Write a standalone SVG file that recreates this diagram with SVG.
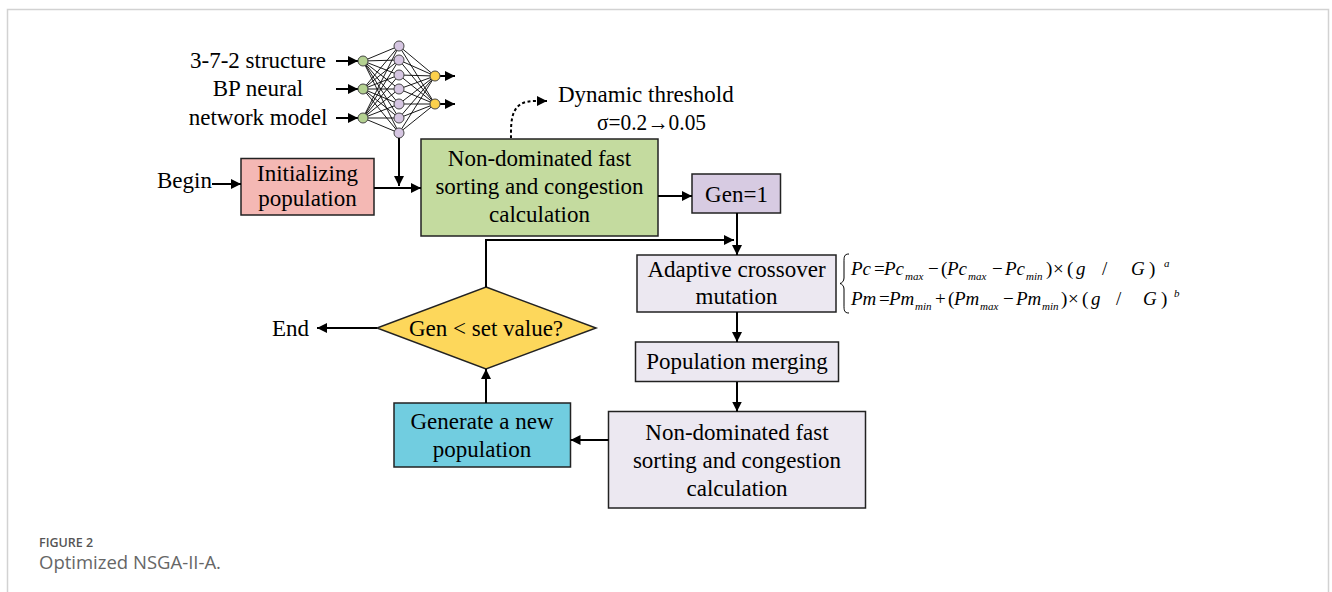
<svg xmlns="http://www.w3.org/2000/svg" width="1332" height="592" viewBox="0 0 1332 592">
<defs>
<style>
.t{font-family:"Liberation Serif","Times New Roman",serif;font-size:23px;fill:#000;}
.m{font-family:"Liberation Serif","Times New Roman",serif;font-size:19px;fill:#000;}
.i{font-style:italic;}
.s{font-size:11px;font-style:italic;}
.box{stroke:#222;stroke-width:1.5;}
.ln{stroke:#000;stroke-width:2;fill:none;}
.nn{stroke:#000;stroke-width:0.9;fill:none;}
.nd{stroke:#444;stroke-width:1;}
.cap1{font-family:"Open Sans","Liberation Sans",sans-serif;font-size:12.5px;font-weight:600;fill:#555;}
.cap2{font-family:"Open Sans","Liberation Sans",sans-serif;font-size:18.5px;fill:#666;}
</style>
<marker id="ah" viewBox="0 0 10 10" refX="10" refY="5" markerWidth="5" markerHeight="5" orient="auto" markerUnits="strokeWidth">
<path d="M0,0 L10,5 L0,10 Z" fill="#000"/>
</marker>
</defs>
<rect x="0" y="0" width="1332" height="592" fill="#fff"/>
<path d="M7.5,600 V9.5 H1328.5 V600" fill="none" stroke="#d2d2d2" stroke-width="1.5"/>

<g id="nn-model">
<text class="t" x="258" y="68" text-anchor="middle">3-7-2 structure</text>
<text class="t" x="258" y="96" text-anchor="middle">BP neural</text>
<text class="t" x="258" y="125" text-anchor="middle">network model</text>
<g class="ln" stroke-width="1.5">
<line x1="336" y1="61" x2="358" y2="61" marker-end="url(#ah)"/>
<line x1="336" y1="89" x2="358" y2="89" marker-end="url(#ah)"/>
<line x1="336" y1="118" x2="358" y2="118" marker-end="url(#ah)"/>
<line x1="440" y1="76" x2="455" y2="76" marker-end="url(#ah)"/>
<line x1="440" y1="104" x2="455" y2="104" marker-end="url(#ah)"/>
</g>
<g class="nn">
<path d="M363,61 L399,46 M363,61 L399,60 M363,61 L399,75 M363,61 L399,89 M363,61 L399,104 M363,61 L399,118 M363,61 L399,133
M363,89 L399,46 M363,89 L399,60 M363,89 L399,75 M363,89 L399,89 M363,89 L399,104 M363,89 L399,118 M363,89 L399,133
M363,118 L399,46 M363,118 L399,60 M363,118 L399,75 M363,118 L399,89 M363,118 L399,104 M363,118 L399,118 M363,118 L399,133
M399,46 L435,76 M399,60 L435,76 M399,75 L435,76 M399,89 L435,76 M399,104 L435,76 M399,118 L435,76 M399,133 L435,76
M399,46 L435,104 M399,60 L435,104 M399,75 L435,104 M399,89 L435,104 M399,104 L435,104 M399,118 L435,104 M399,133 L435,104"/>
</g>
<g class="nd" fill="#b4d191">
<circle cx="363" cy="61" r="5"/>
<circle cx="363" cy="89" r="5"/>
<circle cx="363" cy="118" r="5"/>
</g>
<g class="nd" fill="#d6c6e2">
<circle cx="399" cy="46" r="5"/>
<circle cx="399" cy="60" r="5"/>
<circle cx="399" cy="75" r="5"/>
<circle cx="399" cy="89" r="5"/>
<circle cx="399" cy="104" r="5"/>
<circle cx="399" cy="118" r="5"/>
<circle cx="399" cy="133" r="5"/>
</g>
<g class="nd" fill="#fcd14c">
<circle cx="435" cy="76" r="5"/>
<circle cx="435" cy="104" r="5"/>
</g>
</g>

<g id="begin"><text class="t" x="157" y="188">Begin</text></g>

<g id="init">
<rect class="box" x="241" y="158.5" width="133" height="56.5" fill="#f4b8b4"/>
<text class="t" x="307.5" y="181" text-anchor="middle">Initializing</text>
<text class="t" x="307.5" y="206" text-anchor="middle">population</text>
</g>

<g id="nds1">
<rect class="box" x="421" y="139" width="237" height="97" fill="#c4db9f"/>
<text class="t" x="539.5" y="166" text-anchor="middle">Non-dominated fast</text>
<text class="t" x="539.5" y="194" text-anchor="middle">sorting and congestion</text>
<text class="t" x="539.5" y="222" text-anchor="middle">calculation</text>
</g>

<g id="threshold">
<text class="t" x="558" y="102">Dynamic threshold</text>
<text class="t" x="597" y="130" textLength="109" lengthAdjust="spacingAndGlyphs">σ=0.2→0.05</text>
</g>

<g id="gen1">
<rect class="box" x="692" y="174" width="88.5" height="39" fill="#d7cbe2"/>
<text class="t" x="736.5" y="202" text-anchor="middle">Gen=1</text>
</g>

<g id="adaptive">
<rect class="box" x="637" y="255" width="199" height="57" fill="#ece8f1"/>
<text class="t" x="736.5" y="277" text-anchor="middle">Adaptive crossover</text>
<text class="t" x="736.5" y="304" text-anchor="middle">mutation</text>
</g>

<g id="formula">
<path d="M849,254 C844,254 844,257 844,262 L844,278 C844,281 842,283 840,283.5 C842,284 844,286 844,289 L844,305 C844,310 844,313 849,313" fill="none" stroke="#000" stroke-width="1"/>
<text class="m" y="275"><tspan x="851" class="i">Pc</tspan><tspan x="874">=</tspan><tspan x="884" class="i">Pc</tspan><tspan x="905" dy="5" class="s">max</tspan><tspan x="928" dy="-5">−</tspan><tspan x="941">(</tspan><tspan x="947" class="i">Pc</tspan><tspan x="968" dy="5" class="s">max</tspan><tspan x="992" dy="-5">−</tspan><tspan x="1005" class="i">Pc</tspan><tspan x="1026" dy="5" class="s">min</tspan><tspan x="1046" dy="-5">)</tspan><tspan x="1053">×</tspan><tspan x="1067">(</tspan><tspan x="1076" class="i">g</tspan><tspan x="1102">/</tspan><tspan x="1131" class="i">G</tspan><tspan x="1149">)</tspan><tspan x="1164" dy="-8" class="s">a</tspan></text>
<text class="m" y="305"><tspan x="851" class="i">Pm</tspan><tspan x="879">=</tspan><tspan x="889" class="i">Pm</tspan><tspan x="915" dy="5" class="s">min</tspan><tspan x="935" dy="-5">+</tspan><tspan x="948">(</tspan><tspan x="954" class="i">Pm</tspan><tspan x="980" dy="5" class="s">max</tspan><tspan x="1003" dy="-5">−</tspan><tspan x="1016" class="i">Pm</tspan><tspan x="1042" dy="5" class="s">min</tspan><tspan x="1061" dy="-5">)</tspan><tspan x="1068">×</tspan><tspan x="1082">(</tspan><tspan x="1091" class="i">g</tspan><tspan x="1116">/</tspan><tspan x="1143" class="i">G</tspan><tspan x="1161">)</tspan><tspan x="1174" dy="-8" class="s">b</tspan></text>
</g>

<g id="merging">
<rect class="box" x="635.5" y="342" width="203" height="39.5" fill="#ece8f1"/>
<text class="t" x="737" y="369" text-anchor="middle">Population merging</text>
</g>

<g id="nds2">
<rect class="box" x="608.5" y="411.5" width="257" height="96.5" fill="#ece8f1"/>
<text class="t" x="737" y="440" text-anchor="middle">Non-dominated fast</text>
<text class="t" x="737" y="468" text-anchor="middle">sorting and congestion</text>
<text class="t" x="737" y="496" text-anchor="middle">calculation</text>
</g>

<g id="generate">
<rect class="box" x="394" y="403" width="176.5" height="64" fill="#71cde0"/>
<text class="t" x="482" y="429" text-anchor="middle">Generate a new</text>
<text class="t" x="482" y="457" text-anchor="middle">population</text>
</g>

<g id="decision">
<polygon class="box" points="486,287 596,328 486,369 377,328" fill="#fdd75b"/>
<text class="t" x="486" y="336" text-anchor="middle">Gen &lt; set value?</text>
</g>

<g id="end"><text class="t" x="272" y="336">End</text></g>

<g id="connectors">
<line class="ln" x1="212" y1="184" x2="241" y2="184" marker-end="url(#ah)"/>
<line class="ln" x1="374" y1="188" x2="421" y2="188" marker-end="url(#ah)"/>
<line class="ln" x1="399" y1="138" x2="399" y2="186" marker-end="url(#ah)"/>
<path class="ln" d="M511,138 C511,125 510,106 526,102 C532,100.5 537,101 547,101" stroke-dasharray="3,2.5" marker-end="url(#ah)"/>
<line class="ln" x1="658" y1="196" x2="692" y2="196" marker-end="url(#ah)"/>
<line class="ln" x1="737" y1="213" x2="737" y2="255" marker-end="url(#ah)"/>
<polyline class="ln" points="486,287 486,240 734,240" marker-end="url(#ah)"/>
<line class="ln" x1="737" y1="312" x2="737" y2="342" marker-end="url(#ah)"/>
<line class="ln" x1="737" y1="382" x2="737" y2="411.5" marker-end="url(#ah)"/>
<line class="ln" x1="608.5" y1="440" x2="570.5" y2="440" marker-end="url(#ah)"/>
<line class="ln" x1="486" y1="403" x2="486" y2="369" marker-end="url(#ah)"/>
<line class="ln" x1="377" y1="328" x2="317" y2="328" marker-end="url(#ah)"/>
</g>

<g id="caption">
<text class="cap1" x="39" y="547">FIGURE 2</text>
<text class="cap2" x="39" y="569">Optimized NSGA-II-A.</text>
</g>
</svg>
